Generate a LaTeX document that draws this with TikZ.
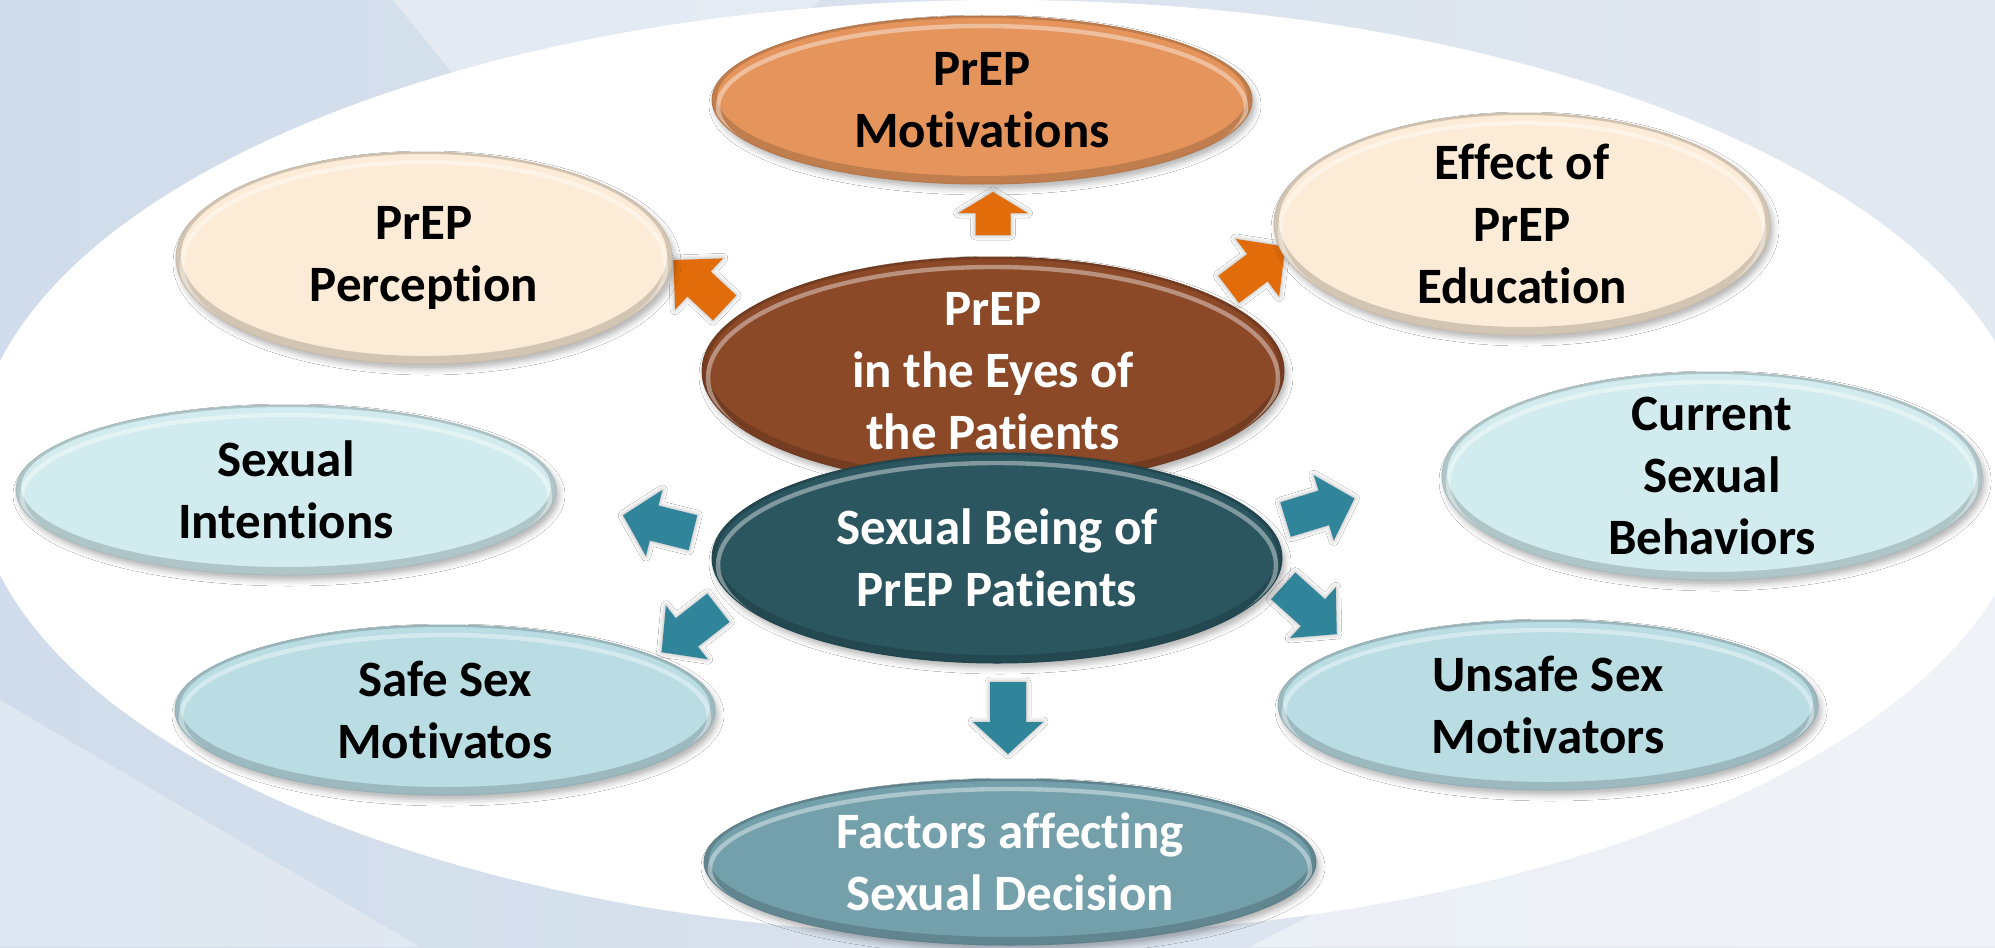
\documentclass[tikz,border=0pt]{standalone}
\usepackage{fontspec}
\setmainfont{Carlito}[Ligatures=NoCommon]
\usetikzlibrary{shapes.geometric,shadows.blur,calc}

\definecolor{bgleft}{RGB}{208,220,235}
\definecolor{bgright}{RGB}{227,233,241}
\definecolor{orangebub}{RGB}{229,149,92}
\definecolor{creambub}{RGB}{252,235,214}
\definecolor{brownbub}{RGB}{139,73,40}
\definecolor{slatebub}{RGB}{43,86,96}
\definecolor{palebub}{RGB}{210,235,238}
\definecolor{aquabub}{RGB}{186,221,228}
\definecolor{steelbub}{RGB}{116,160,172}
\definecolor{arrowor}{RGB}{227,108,10}
\definecolor{arrowteal}{RGB}{49,133,155}

\newcommand\diagfont{\fontsize{25.5pt}{31pt}\selectfont\bfseries}

\tikzset{
  % bevelled ellipse: fill colour, width, height
  bub/.style n args={3}{ellipse, inner sep=0pt, minimum width=#2, minimum height=#3,
    fill=#1, draw=#1!80!black, line width=0.5pt,
    blur shadow={shadow xshift=1.5pt, shadow yshift=-2.5pt, shadow blur radius=3pt, shadow opacity=30},
    path picture={
      \draw[black, opacity=.16, line width=5pt]
        let \p1=($(path picture bounding box.north east)-(path picture bounding box.center)$) in
        ([yshift=1.5pt]path picture bounding box.center) ellipse [x radius=\x1, y radius=\y1];
      \draw[white, opacity=.4, line width=2.2pt]
        let \p1=($(path picture bounding box.north east)-(path picture bounding box.center)$) in
        ([yshift=-3.5pt]path picture bounding box.center) ellipse [x radius=\x1-3pt, y radius=\y1-1.5pt];
    }},
  lbl/.style={font=\diagfont, align=center, text=#1, inner sep=0pt},
  lbl/.default=black,
  arrshadow/.style={blur shadow={shadow xshift=0pt, shadow yshift=0pt, shadow blur radius=2.5pt, shadow opacity=35}},
  orfill/.style={fill=arrowor},
  tealfill/.style={fill=arrowteal},
  % block arrow pointing along +x: half length / head base / shaft half width / head half width / fill style
  pics/barrow/.style args={#1/#2/#3/#4/#5}{code={
    \path[transform canvas={xshift=1.2pt,yshift=-2pt}, arrshadow]
      (-#1,-#3) -- (#2,-#3) -- (#2,-#4) -- (#1,0) -- (#2,#4) -- (#2,#3) -- (-#1,#3) -- cycle;
    \fill[#5]
      (-#1,-#3) -- (#2,-#3) -- (#2,-#4) -- (#1,0) -- (#2,#4) -- (#2,#3) -- (-#1,#3) -- cycle;
  }},
}

\begin{document}
\begin{tikzpicture}[x=0.5pt,y=-0.5pt]
\useasboundingbox (0,0) rectangle (1995,947);

% backdrop
\shade[left color=bgleft, right color=bgright] (0,0) rectangle (1995,947);
\fill[white, opacity=.35] (393,0) -- (820,0) -- (760,60) -- (470,95) -- cycle;
\fill[white, opacity=.30] (0,700) -- (420,947) -- (0,947) -- cycle;
\fill[white, opacity=.45] (1250,947) -- (1995,560) -- (1995,947) -- cycle;
\fill[white] (1003,468) ellipse [x radius=1030, y radius=468];

% orange arrows out of the central brown bubble
\pic[rotate=90]  (arrM) at (993,213.5) {barrow=21.5/0.5/17.5/34.5/orfill};
\pic[rotate=137] (arrP) at (699,284)   {barrow=35/0/17/35/orfill};
\pic[rotate=37]  (arrE) at (1257,268)  {barrow=35.5/0.5/17/36/orfill};

% outer bubbles
\node[bub={orangebub}{270pt}{84pt}]  (motiv)   at (982,100) {};
\node[bub={creambub}{248pt}{106pt}]  (percep)  at (424,258) {};
\node[bub={creambub}{248pt}{111pt}]  (educ)    at (1522,224) {};
\node[bub={palebub}{270pt}{85pt}]    (intent)  at (286,490) {};
\node[bub={palebub}{270pt}{104pt}]   (current) at (1712,476) {};
\node[bub={aquabub}{270pt}{85pt}]    (safe)    at (445,710) {};
\node[bub={aquabub}{270pt}{85pt}]    (unsafe)  at (1548,705) {};
\node[bub={steelbub}{306pt}{83pt}]   (factors) at (1010,862) {};

% teal arrows out of the central slate bubble
\pic[rotate=166] (arrI) at (658,524)  {barrow=36/4/18/34/tealfill};
\pic[rotate=17]  (arrC) at (1320,509) {barrow=36/4/18/34/tealfill};
\pic[rotate=218] (arrS) at (690,630)  {barrow=36/4/18/34/tealfill};
\pic[rotate=-42] (arrU) at (1310,610) {barrow=36/4/18/34/tealfill};
\pic[rotate=-90] (arrF) at (1008,718) {barrow=36/4/18/35/tealfill};

% central bubbles
\node[bub={brownbub}{291pt}{114pt}] (eyes)  at (993,371) {};
\node[bub={slatebub}{285pt}{105pt}] (being) at (997,558) {};

% labels
\node[lbl] (motiv-t)   at (motiv)   {PrEP\\Motivations};
\node[lbl] (percep-t)  at (percep)  {PrEP\\Perception};
\node[lbl] (educ-t)    at (educ)    {Effect of\\PrEP\\Education};
\node[lbl] (intent-t)  at (intent)  {Sexual\\Intentions};
\node[lbl] (current-t) at (current) {Current\\Sexual\\Behaviors};
\node[lbl] (safe-t)    at (safe)    {Safe Sex\\Motivatos};
\node[lbl] (unsafe-t)  at (unsafe)  {Unsafe Sex\\Motivators};
\node[lbl=white] (factors-t) at (factors) {Factors affecting\\Sexual Decision};
\node[lbl=white] (eyes-t)    at (eyes)    {PrEP\\in the Eyes of\\the Patients};
\node[lbl=white] (being-t)   at (being)   {Sexual Being of\\PrEP Patients};
\end{tikzpicture}
\end{document}
